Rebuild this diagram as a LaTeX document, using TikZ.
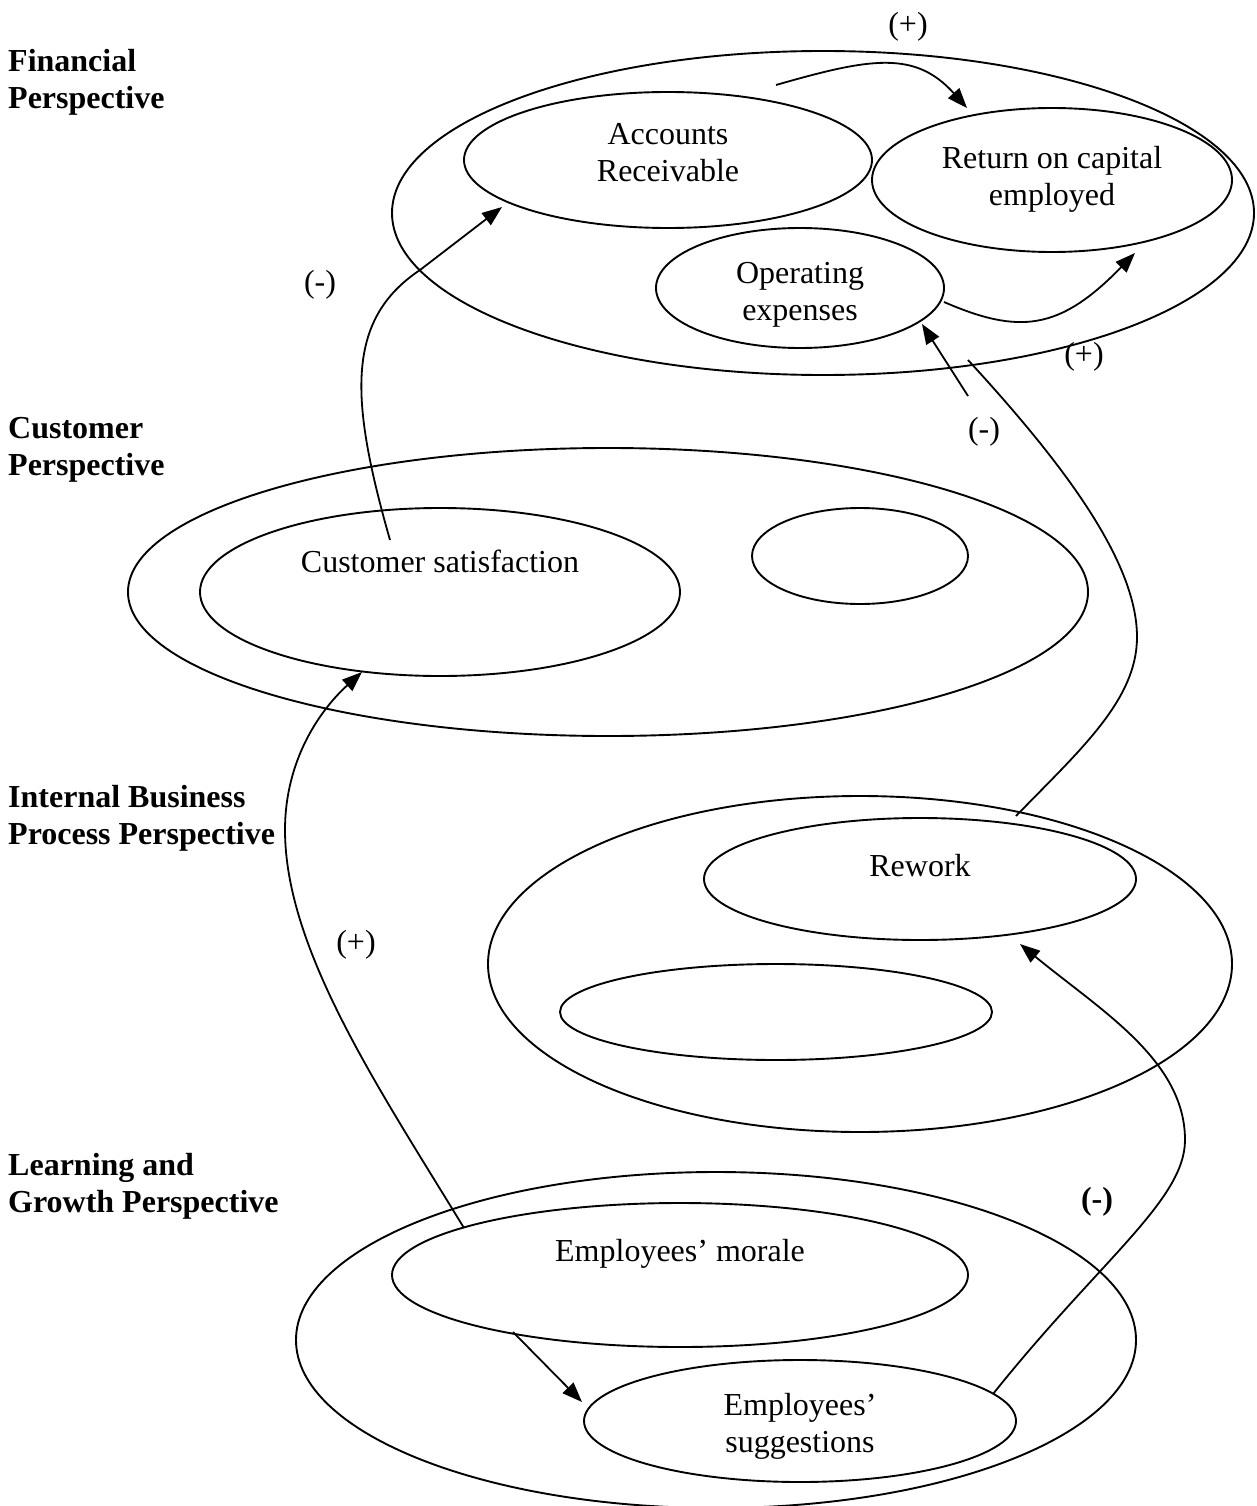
\documentclass[tikz,border=0pt]{standalone}
\usepackage{fontspec}
\setmainfont{Liberation Serif}
\usetikzlibrary{arrows.meta,calc,shapes.geometric}
\begin{document}
\begin{tikzpicture}[x=1pt,y=-1pt,
  ell/.style={draw,ellipse,inner sep=0pt,line width=1.9pt},
  txt/.style={font=\fontsize{32}{37}\selectfont,align=center,inner sep=0pt},
  lab/.style={font=\fontsize{32}{37}\selectfont\bfseries,align=left,anchor=west,inner sep=0pt},
  conn/.style={line width=1.8pt},
  arr/.style={conn,-{Triangle[length=20pt,width=15pt]}}]
\useasboundingbox (0,0) rectangle (1256,1506);
% left labels
\node[lab] (lfin) at (8,82) {Financial\\Perspective};
\node[lab] (lcus) at (8,450) {Customer\\Perspective};
\node[lab] (libp) at (8,818) {Internal Business\\Process Perspective};
\node[lab] (llg) at (8,1186) {Learning and\\Growth Perspective};
% ellipses
\node[ell,minimum width=862pt,minimum height=324pt] (fin) at (823,213) {};
\node[ell,minimum width=408pt,minimum height=136pt] (ar) at (668,160) {};
\node[ell,minimum width=360pt,minimum height=144pt] (roc) at (1052,180) {};
\node[ell,minimum width=288pt,minimum height=120pt] (op) at (800,288) {};
\node[ell,minimum width=960pt,minimum height=288pt] (cust) at (608,592) {};
\node[ell,minimum width=480pt,minimum height=168pt] (cs) at (440,592) {};
\node[ell,minimum width=216pt,minimum height=96pt] (cx) at (860,556) {};
\node[ell,minimum width=744pt,minimum height=336pt] (ibp) at (860,964) {};
\node[ell,minimum width=432pt,minimum height=122pt] (rw) at (920,879) {};
\node[ell,minimum width=432pt,minimum height=96pt] (ie) at (776,1012) {};
\node[ell,minimum width=840pt,minimum height=336pt] (lg) at (716,1340) {};
\node[ell,minimum width=576pt,minimum height=144pt] (mor) at (680,1275) {};
\node[ell,minimum width=432pt,minimum height=122pt] (sug) at (800,1421) {};
% texts
\node[txt] (tar) at (668,153) {Accounts\\Receivable};
\node[txt] (troc) at (1052,179) {Return on capital\\employed};
\node[txt] (top) at (800,295) {Operating\\expenses};
\node[txt] (tcs) at (440,561) {Customer satisfaction};
\node[txt] (trw) at (920,866) {Rework};
\node[txt] (tmor) at (680,1254) {Employees' morale};
\node[txt] (tsug) at (800,1426) {Employees'\\suggestions};
% signs
\node[txt] (s1) at (908,27) {(+)};
\node[txt] (s2) at (320,285) {(-)};
\node[txt] (s3) at (1084,357) {(+)};
\node[txt] (s4) at (984,432) {(-)};
\node[txt] (s5) at (356,945) {(+)};
\node[txt,font=\fontsize{32}{37}\selectfont\bfseries] (s6) at (1097,1202) {(-)};
% connectors
\draw[arr] ($(ar)+(108,-75)$) .. controls (870,58) and (915,50) .. ($(roc)+(-85,-72)$);
\draw[arr] ($(op)+(144,14)$) .. controls (1020,335) and (1060,330) .. ($(roc)+(83,73)$);
\draw[arr] ($(cs)+(-50,-52)$) .. controls (350,400) and (345,320) .. (420,270) -- ($(ar)+(-166,47)$);
\draw[conn] ($(rw)+(96,-63)$) .. controls (1080,750) and (1137,700) .. (1137,637) .. controls (1137,560) and (1060,460) .. ($(op)+(168,72)$);
\draw[arr] ($(op)+(168,108)$) -- ($(op)+(122,36)$);
\draw[arr] ($(mor)+(-216,-47)$) .. controls (380,1090) and (285,950) .. (285,830) .. controls (285,760) and (320,710) .. ($(cs)+(-78,80)$);
\draw[arr] ($(mor)+(-167,57)$) -- ($(sug)+(-218,-19)$);
\draw[arr] ($(sug)+(193,-27)$) .. controls (1100,1260) and (1185,1200) .. (1185,1140) .. controls (1185,1060) and (1100,1010) .. ($(rw)+(100,65)$);
\end{tikzpicture}
\end{document}
